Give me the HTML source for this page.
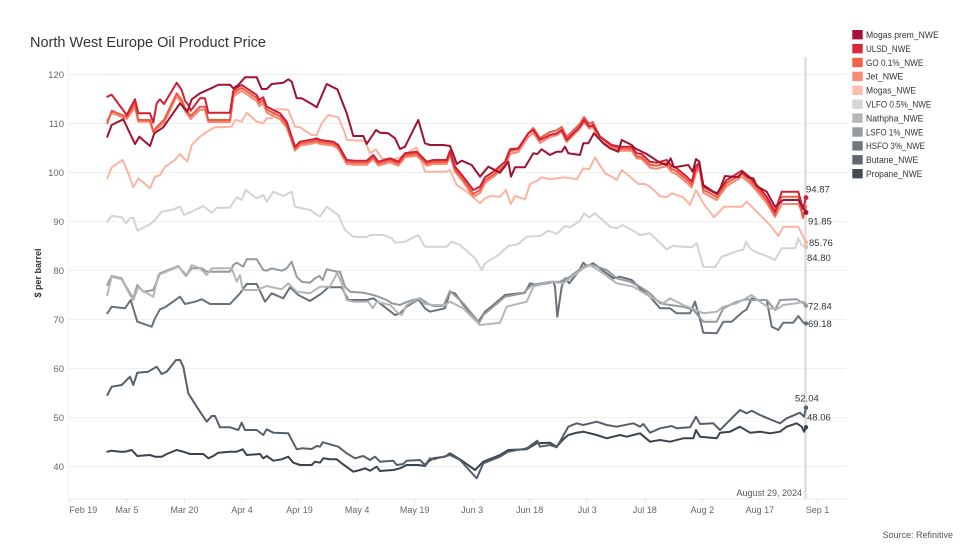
<!DOCTYPE html>
<html><head><meta charset="utf-8"><style>
html,body{margin:0;padding:0;background:#fff;}
svg{display:block;font-family:"Liberation Sans",Arial,sans-serif;}
</style></head><body>
<svg width="980" height="560" viewBox="0 0 980 560" xmlns="http://www.w3.org/2000/svg">
<rect width="980" height="560" fill="#fff"/>
<text x="30" y="47" font-size="15" fill="#333" textLength="236" lengthAdjust="spacingAndGlyphs">North West Europe Oil Product Price</text>

<!-- grid -->
<g stroke="#efefef" stroke-width="1">
<line x1="68" y1="74.5" x2="846" y2="74.5"/>
<line x1="68" y1="123.5" x2="846" y2="123.5"/>
<line x1="68" y1="172.5" x2="846" y2="172.5"/>
<line x1="68" y1="221.5" x2="846" y2="221.5"/>
<line x1="68" y1="270.5" x2="846" y2="270.5"/>
<line x1="68" y1="319.5" x2="846" y2="319.5"/>
<line x1="68" y1="368.5" x2="846" y2="368.5"/>
<line x1="68" y1="417.5" x2="846" y2="417.5"/>
<line x1="68" y1="466.5" x2="846" y2="466.5"/>
</g>
<line x1="68" y1="57" x2="68" y2="499" stroke="#f2f2f2"/>
<line x1="68" y1="499" x2="848" y2="499" stroke="#e8e8e8"/>
<g stroke="#e4e4e4">
<line x1="69.3" y1="499" x2="69.3" y2="503"/><line x1="126.9" y1="499" x2="126.9" y2="503"/><line x1="184.4" y1="499" x2="184.4" y2="503"/><line x1="242" y1="499" x2="242" y2="503"/><line x1="299.5" y1="499" x2="299.5" y2="503"/><line x1="357.1" y1="499" x2="357.1" y2="503"/><line x1="414.6" y1="499" x2="414.6" y2="503"/><line x1="472.2" y1="499" x2="472.2" y2="503"/><line x1="529.7" y1="499" x2="529.7" y2="503"/><line x1="587.3" y1="499" x2="587.3" y2="503"/><line x1="644.8" y1="499" x2="644.8" y2="503"/><line x1="702.4" y1="499" x2="702.4" y2="503"/><line x1="759.9" y1="499" x2="759.9" y2="503"/><line x1="817.5" y1="499" x2="817.5" y2="503"/>
</g>

<!-- y labels -->
<g font-size="9.5" fill="#666" text-anchor="end">
<text x="64" y="78">120</text><text x="64" y="127">110</text><text x="64" y="176">100</text><text x="64" y="225">90</text><text x="64" y="274">80</text><text x="64" y="323">70</text><text x="64" y="372">60</text><text x="64" y="421">50</text><text x="64" y="470">40</text>
</g>
<text transform="translate(41,273) rotate(-90)" font-size="9" font-weight="bold" fill="#333" text-anchor="middle">$ per barrel</text>

<!-- x labels -->
<g font-size="9" fill="#666" text-anchor="middle">
<text x="69.3" y="513" text-anchor="start">Feb 19</text><text x="126.9" y="513">Mar 5</text><text x="184.4" y="513">Mar 20</text><text x="242" y="513">Apr 4</text><text x="299.5" y="513">Apr 19</text><text x="357.1" y="513">May 4</text><text x="414.6" y="513">May 19</text><text x="472.2" y="513">Jun 3</text><text x="529.7" y="513">Jun 18</text><text x="587.3" y="513">Jul 3</text><text x="644.8" y="513">Jul 18</text><text x="702.4" y="513">Aug 2</text><text x="759.9" y="513">Aug 17</text><text x="817.5" y="513">Sep 1</text>
</g>

<!-- reference line -->
<line x1="805.5" y1="57" x2="805.5" y2="499" stroke="#dedede" stroke-width="2.5"/>
<text x="802" y="496" font-size="9" fill="#555" text-anchor="end">August 29, 2024</text>

<g fill="none" stroke-width="2" stroke-linejoin="round" stroke-linecap="round">
<polyline stroke="#3a434d" points="107.3,451.7 111.7,450.7 120,451.7 125,451.7 131.7,450 137.3,456 150,455 155,456.7 161.7,456.7 166.7,454 176.7,450 183.3,451.7 190,454 203.3,454 208.3,458.3 213.3,456 218.3,452.7 230,451.7 236.7,451.7 242.7,449.3 246.7,455 260,454 263.3,458.3 266.7,456 273.3,460.7 281.7,459.3 288.3,456.7 293.3,462.7 300,465 311.7,465 315,461.7 320,462.7 323.3,458.3 330,459.3 336.7,459.3 341.7,463.3 353.3,471.7 360,470 365,468.3 370,470.7 376.7,466.7 380,471 393.3,470 400,468.3 406.7,465 418.3,465 425,466 428.3,461.7 433.3,458.3 445,456.7 450,453.3 460,459.3 475,470 483.3,461.7 500,455 508.3,450 526.7,449.3 536.7,443.3 550,442.7 556.7,446.7 563.3,439.3 568.3,435 576.7,432.7 583.3,431.7 596.7,435 606.7,438.3 620,435 626.7,436.7 640,433.3 650,441.7 660,440 670,441.7 683.3,438.3 693.3,438.3 696,430 700,436.7 716.7,438.3 720,432.7 730,431.7 740,426.7 750,432.7 760,431.7 770,433.3 780,431.7 786.7,426.7 796.7,423.3 801.7,426.7 804,431.7 806,427.3"/>
<polyline stroke="#56606a" points="107.3,395 111.7,386.7 121.7,385 130,376.7 133.3,385 137.3,372.7 148.3,371.7 156.7,366.7 161.7,374 166.7,371.7 176,360 180,360 183.3,366.7 188.3,393.3 196.7,406.7 206.7,421.7 211.7,416 215,416 220,427.3 230,427.3 238.3,430 241.7,422.7 245,430 256.7,430 263.3,435 266.7,429.3 273.3,432.7 288.3,433.3 296.7,449.3 301.7,448.3 311.7,449 316.7,446 320,446.7 322.7,442.3 330,444.3 338.3,446.7 346.7,453.3 355,458.3 363.3,456 370,460 375,456.7 380,461.7 393.3,460.7 396.7,465 403.3,464 406.7,460.7 420,460 425,465 430,458.3 433.3,459.3 450,455 460,460 476.7,478.3 483.3,463.3 500,456.7 508.3,451.7 526.7,448.3 537.3,440.7 540,446.7 550,445 556.7,447.3 568.3,426.7 576.7,423.3 583.3,425 596.7,421.7 606.7,425 616.7,426.7 633.3,423.3 640,426.7 643.3,424 650,432.7 660,428.3 671.7,426 676.7,428.3 690,427.3 696,416.7 700,424 713.3,423.3 720,430 726.7,423.3 740,410 746.7,413.3 751.7,410.7 760,415 770,419.3 780,423.3 786.7,418.3 800,412.7 804,416.7 806,407.7"/>
<polyline stroke="#67717a" points="107.3,313.3 111.7,306.7 125,308.3 130.7,300 137.3,321.7 151.7,326.7 155,318.3 160,309.3 165,307.3 180,296.7 185,304 195,301.7 201.7,299.3 210,304 230,304 240,293.3 246.7,284 256.7,284 265,301.7 271.7,293.3 283.3,298.3 290,287.3 298.3,295 310,301 321.7,293.3 328.3,287.3 341.7,287.3 348.3,300 366.7,300 373.3,298.3 380,303.3 395,315 400,313.3 406.7,306.7 418.3,299.3 425,308.3 430,311.7 445,308.3 450,292 455,293.3 463.3,305 478.3,321.7 485,311.7 493.3,305 505,295 525,292.7 530,283.3 538.3,285 550,282.7 553.3,281.7 555,286.7 557.3,316.7 561.7,286.7 565,278.3 569.3,283.3 578.3,271.7 583.3,262.7 586.7,266 593.3,263.3 606.7,273.3 613.3,278.3 620,276.7 631.7,280 636.7,285 641.7,290 650,296.7 660,308.3 670,308.3 676.7,313.3 690,313.3 695,301.7 699.3,316.7 703.3,332.7 716.7,333.3 723.3,321.7 731.7,321.7 741.7,312.7 746.7,309.3 751.7,298.3 758.3,300 766.7,300 771.7,326.7 778.3,330 783.3,322.7 793.3,322.7 798.3,316 803.3,322.7 806,323.5"/>
<polyline stroke="#949a9f" points="107.3,285 111.7,276 121.7,278.3 125,285 133.3,298.3 137.3,285 143.3,291.7 153.3,290 160,273.3 178.3,266 186,276 191.7,268.3 201.7,268.3 206.7,271.7 213.3,271.7 230,271.7 233.3,265 236.7,262.7 243.3,266.7 246.7,259.3 256.7,259.3 263.3,270 266.7,270.7 271.7,268.3 281.7,270.7 286.7,268.3 291.7,261.7 296.7,276.7 301.7,281.7 310,282.7 315,278.3 319.3,276 322.7,280 326.7,269.3 336.7,271.7 340,271.7 345,286.7 350,291.7 363.3,292.7 373.3,295 378.3,296.7 386.7,300 391.7,303.3 400,305 405,302.7 410,300.7 420,298.3 428.3,304 433.3,306 443.3,306 450,291 463.3,303.3 479.3,322.7 483.3,315 493.3,306.7 505,296.7 523.3,293.3 531.7,285 550,281.7 560,281.7 570,276.7 583.3,266.7 593.3,265 606.7,270 616.7,278.3 630,281.7 640,286.7 650,293.3 660,303.3 670,305 683.3,306.7 693.3,310 703.3,321.7 716.7,321.7 723.3,308.3 736.7,301.7 746.7,299.3 751.7,300 766.7,300 775,310 780,300 796.7,299.3 803.3,303.3 806,305.7"/>
<polyline stroke="#b3b5b7" points="107.3,295 111.7,276.7 121.7,279.3 130,295 133.3,300 138.3,286.7 141.7,290 150,295 153.3,296.7 158.3,275 178.3,266.7 186.7,275 191.7,265 200,268.3 206.7,275 211.7,268.3 231.7,268.3 236.7,281.7 240,275 242.7,290 256.7,290 266.7,286 281.7,289.3 288.3,283.3 296.7,291.7 310,293.3 320,286.7 330,286.7 337.3,272.7 341.7,283.3 346.7,300 353.3,301.7 368.3,301.7 372.7,308.3 376.7,301.7 390,305 396.7,311.7 401.7,315 406.7,305 418.3,298.3 425,304 433.3,305 445,305 450,301.7 463.3,308.3 480,325 500,322.7 506.7,306.7 526.7,301.7 533.3,286.7 550,281.7 563.3,283.3 570,278.3 583.3,268.3 590,265 603.3,273.3 616.7,283.3 633.3,286.7 650,296.7 663.3,303.3 670,298.3 683.3,305 691.7,308.3 703.3,313.3 716.7,311.7 723.3,306.7 736.7,303.3 751.7,295 760,301.7 770,308.3 776.7,309.3 783.3,305 796.7,303.3 803.3,301.7 806,303.5"/>
<polyline stroke="#d3d3d3" points="107.3,221.7 111.7,216 121.7,217.3 126,223.3 130,218.3 133.3,217.7 137.3,230.7 150,224.3 155,220 161.7,211.7 171.7,210 180,206.7 184,215 191.7,211.7 203.3,206 211.7,212.7 216.7,207.7 230,207.7 236.7,197.3 241.7,200 245.7,190 256.7,198.3 263.3,195 266.7,201.7 273.3,191.7 283.3,196 291.7,191.7 295,206.7 310,210 320,216.7 326.7,206.7 338.3,215 345,230 353.3,236.7 366.7,237.3 370,235 383.3,235 391.7,238.3 395,242.7 405,241.7 418.3,235 425,246.7 446.7,246.7 451.7,241.7 460,245 475,258.3 481.7,270 485,263.3 498.3,255 508.3,246 518.3,244 526.7,236.7 540,236 548.3,230.7 556.7,234 565,226 570,227.3 580,220.7 584,213.3 589.3,217.3 595,213.3 610,226.7 616.7,228.3 622.7,225 635,231.7 640,235 650,233.3 666.7,249.3 672.7,246 691.7,247.3 696.7,243.3 703.3,266.7 715,267.3 721.7,256.7 726.7,255 738.3,250.7 743.3,250 746,241.7 750,248.3 755,251.7 768.3,256.7 775,260 781.7,248.3 795,248.3 798.3,238.3 801.7,245 806,247.1"/>
<polyline stroke="#fbb4a2" points="107.3,178.3 111.7,167.3 122.7,160 128.3,173.3 133.3,187.3 138.3,178.3 150,188.3 155,176.7 160,175 165,166.7 175,160 180,154 187.3,161.7 191.7,145 200,136.7 206.7,131.7 215,127.3 231.7,126.7 235,120 241.7,121.7 246.7,112.7 256.7,121.7 263.3,123.3 266.7,118.3 271.7,118.3 276.7,109.3 283.3,109.3 288.3,110 295,126.7 300,127.3 311.7,135 316.7,135 321.7,123.3 328.3,115 338.3,117.3 345,133.3 346.7,140 365,140.7 370,153.3 376,149.3 381.7,158.3 390,160 400,157.3 416.7,147.3 425,171.7 446.7,171.7 450,170 456.7,185 466.7,191.7 480,203.3 485,198.3 490,196 500,196.7 506,190 510.7,204 515,196 525,199.3 530,184 537.3,180.7 541.7,177.3 550,179.3 565,177.3 576.7,179.3 583.3,168.3 589.3,169.3 595,157.3 605,173.3 611.7,176.7 616.7,180 621.7,170 630,176.7 638.3,184 645,184 650,186.7 660,196 666.7,197.3 671.7,193.3 683.3,197.3 690,205 696,190 703.3,203.3 714,217.3 724,206.7 741.7,206.7 746.7,201.7 761.7,216.7 770,225 778.3,236 783.3,226.7 798.3,226.7 806,242.5"/>
<polyline stroke="#f7896f" points="107.3,120.5 111.7,113 126.7,119 135,107 138.3,121.7 150,121.7 153.3,132 156.7,129 164,123 176.7,96 181.7,103 185,111 190.7,119 200,109.7 205,109.7 208.3,122 230,122 233.3,96.7 238.3,92.7 241.7,91 246.7,94.3 256.7,101 259.3,106 263.3,103.3 266.7,112.7 270,114.3 280,119.3 286.7,127.7 295,150.7 300,145.7 313.3,143.3 316.7,142.3 320,144 333.3,145.7 338.3,149 346.7,164 355,164.7 366.7,164.7 373.3,159 378.3,165.7 390,162.3 398.3,165.7 405,157.3 416.7,155.7 426.7,165.7 433.3,164 446.7,164 450,155 455,171.7 463.3,182 473.3,197 480,193 485,183 493.3,177 505,167 510,154 518.3,152 528.3,137 533.3,133 540,143 550,137 556.7,135.3 561.7,132 566.7,142 575,133.7 580,128.7 584,122 589.3,128.7 592.7,127 600,139.7 611.7,148 620,150.7 631.7,150.7 636.7,158.3 641.7,159 650,167.7 656.7,168.7 666.7,166 671.7,172 676.7,174.3 686.7,182.7 691.7,187.7 696,173 699.3,168 703.3,192.7 716.7,200 720,195.3 726.7,186 733.3,182 741.7,176.7 750,183.3 756.7,191 766.7,203 775,217 781.7,204 798.3,204 803,214 806,210"/>
<polyline stroke="#ef5a45" points="107.3,123.3 111.7,110.7 126.7,117 135,103.3 138.3,120 150,120 153.3,131.7 156.7,127 164,120 176.7,93.3 181.7,100 185,108 190.7,116 200,106.7 205,106.7 208.3,120 230,120 233.3,93.7 238.3,89.7 241.7,88 246.7,91.3 256.7,98 259.3,103 263.3,100.3 266.7,109.7 270,111.3 280,116.3 286.7,124.7 295,148.7 300,143.7 313.3,141.3 316.7,140.3 320,142 333.3,143.7 338.3,147 346.7,162 355,162.7 366.7,162.7 373.3,157 378.3,163.7 390,160.3 398.3,163.7 405,155.3 416.7,153.7 426.7,163.7 433.3,162 446.7,162 450,153 455,169.7 463.3,179.7 473.3,194 480,190 485,180.3 493.3,174.7 505,164.7 510,151.3 518.3,149.3 528.3,133.3 533.3,128 540,138 550,132 556.7,130.3 561.7,127 566.7,137 575,128.7 580,123.7 584,117 589.3,123.7 592.7,122 600,136.7 611.7,146 620,148.7 631.7,148.7 636.7,156.3 641.7,157 650,164.7 656.7,165.7 666.7,163 671.7,169 676.7,171.3 686.7,179.7 691.7,184.7 696,170 699.3,165 703.3,189.7 716.7,197 720,192.3 726.7,183 733.3,179 741.7,173.7 750,180.3 756.7,188 766.7,200 775,215 781.7,196.7 798.3,196.7 803,218 806,206"/>
<polyline stroke="#d21f36" points="107.3,96.7 111.7,94.7 126.7,115 135,99.3 138.3,113.3 150,113.3 153.3,122.7 156.7,103.3 160,99.3 164,104 176.7,82.7 181.7,90 185,100.7 188.3,105 190.7,110.7 200,98.3 205,98.3 208.3,112.7 230,112.7 233.3,90.7 238.3,86.7 241.7,85 246.7,88.3 256.7,95 259.3,100 263.3,97.3 266.7,106.7 270,108.3 280,113.3 286.7,121.7 295,146.7 300,141.7 313.3,139.3 316.7,138.3 320,140 333.3,141.7 338.3,145 346.7,160 355,160.7 366.7,160.7 373.3,155 378.3,161.7 390,158.3 398.3,161.7 405,153.3 416.7,151.7 426.7,161.7 433.3,160 446.7,160 450,150.7 455,166.7 463.3,176.7 473.3,190 480,186.7 485,177.3 493.3,171.7 505,161.7 510,149.3 518.3,148.3 528.3,133.3 533.3,130 540,140 550,135 556.7,133.3 561.7,130 566.7,140 575,131.7 580,126.7 584,120 589.3,126.7 592.7,125 600,136.7 611.7,145 620,146.7 631.7,146.7 636.7,153.3 641.7,154 650,161.7 656.7,162.7 666.7,160 671.7,166 676.7,168.3 686.7,176.7 691.7,181.7 696,166 699.3,163 703.3,186.7 716.7,194 720,189.3 726.7,180 733.3,176 741.7,170.7 750,177.3 756.7,185 766.7,196.7 775,211.7 781.7,191.7 798.3,191.7 803,209 806,197.7"/>
<polyline stroke="#9e1330" points="107.3,136.7 111.7,125 123.3,119.3 135,144 139.3,136.7 150,146 154.3,133.3 163.3,127.3 180,103.3 187.3,111.7 191.7,99.3 200,93.3 213.3,87.3 218.3,84.7 230,84.7 233.3,88.3 238.3,85 245,77.3 256.7,77.3 261.7,89 266.7,89 271.7,84 283.3,82.7 288.3,79.3 291.7,81.7 296.7,98.3 301.7,98.3 313.3,105 316.7,107.3 326.7,84 337.3,89.3 346.7,113.3 353.3,136 363.3,136 366.7,144 376,130 380,132.7 388.3,133.3 395,138.3 400,149 405,146.7 418.3,120 425,143.3 430,145 443.3,145 450,146 454,156 456.7,164 461.7,160.7 471.7,165 480,176.7 488.3,166.7 500,172.7 508.3,161.7 511,176.7 515,167.3 525,167.3 533.3,153.3 537.3,154 541.7,149.3 550,155 556.7,151.7 561.7,151.7 565,146.7 568.3,153.3 580,155 583.3,143.3 588.3,143.3 594,133.3 603.3,143.3 610,148.3 618.3,151.7 621.7,140 631.7,145 635,148.3 646.7,154 660,162.7 666.7,165 670.7,158.3 674,167.3 688.3,165 692.7,171.7 696,159 699.3,161.7 703.3,185 713.3,191.7 717.3,193.3 720.7,187.3 725,176 738.3,177.3 742.7,171.7 748.3,177.3 753.3,178.3 756.7,186 766.7,191.7 775,206.7 783.3,200 798.3,200 806,212.5"/>
</g>

<!-- end dots -->
<g>
<circle cx="806" cy="197.7" r="2.4" fill="#d21f36"/>
<circle cx="806" cy="212.5" r="2.4" fill="#9e1330"/>
<circle cx="806" cy="242.5" r="2.2" fill="#fbb4a2"/>
<circle cx="806" cy="247.1" r="2.2" fill="#c8c8c8"/>
<circle cx="806" cy="305.7" r="2.2" fill="#949a9f"/>
<circle cx="806" cy="323.5" r="2.2" fill="#67717a"/>
<circle cx="806" cy="407.7" r="2.2" fill="#56606a"/>
<circle cx="806" cy="427.3" r="2.2" fill="#3a434d"/>
</g>
<g font-size="9.5" fill="#333">
<text x="806" y="192.5">94.87</text>
<text x="808" y="224.5">91.85</text>
<text x="809" y="246">85.76</text>
<text x="807" y="261">84.80</text>
<text x="808" y="309.5">72.84</text>
<text x="808" y="327">69.18</text>
<text x="795" y="401.7">52.04</text>
<text x="807" y="420.5">48.06</text>
</g>

<!-- legend -->
<g>
<rect x="852.3" y="30" width="10.4" height="9.4" fill="#a3123a"/>
<rect x="852.3" y="43.9" width="10.4" height="9.4" fill="#d62839"/>
<rect x="852.3" y="57.8" width="10.4" height="9.4" fill="#f0624a"/>
<rect x="852.3" y="71.7" width="10.4" height="9.4" fill="#f88d76"/>
<rect x="852.3" y="85.6" width="10.4" height="9.4" fill="#fcbcaa"/>
<rect x="852.3" y="99.5" width="10.4" height="9.4" fill="#d6d6d6"/>
<rect x="852.3" y="113.4" width="10.4" height="9.4" fill="#b5b7b8"/>
<rect x="852.3" y="127.3" width="10.4" height="9.4" fill="#959b9f"/>
<rect x="852.3" y="141.2" width="10.4" height="9.4" fill="#6e777e"/>
<rect x="852.3" y="155.1" width="10.4" height="9.4" fill="#5d6770"/>
<rect x="852.3" y="169" width="10.4" height="9.4" fill="#444c56"/>
</g>
<g font-size="9" fill="#333" lengthAdjust="spacingAndGlyphs">
<text x="866" y="38" textLength="72.7" lengthAdjust="spacingAndGlyphs">Mogas prem_NWE</text>
<text x="866" y="51.9" textLength="44.7" lengthAdjust="spacingAndGlyphs">ULSD_NWE</text>
<text x="866" y="65.8" textLength="57.3" lengthAdjust="spacingAndGlyphs">GO 0.1%_NWE</text>
<text x="866" y="79.7" textLength="37.3" lengthAdjust="spacingAndGlyphs">Jet_NWE</text>
<text x="866" y="93.6" textLength="50" lengthAdjust="spacingAndGlyphs">Mogas_NWE</text>
<text x="866" y="107.5" textLength="65.3" lengthAdjust="spacingAndGlyphs">VLFO 0.5%_NWE</text>
<text x="866" y="121.4" textLength="57.3" lengthAdjust="spacingAndGlyphs">Nathpha_NWE</text>
<text x="866" y="135.3" textLength="57.3" lengthAdjust="spacingAndGlyphs">LSFO 1%_NWE</text>
<text x="866" y="149.2" textLength="59" lengthAdjust="spacingAndGlyphs">HSFO 3%_NWE</text>
<text x="866" y="163.1" textLength="52.3" lengthAdjust="spacingAndGlyphs">Butane_NWE</text>
<text x="866" y="177" textLength="56.3" lengthAdjust="spacingAndGlyphs">Propane_NWE</text>
</g>

<text x="953" y="538" font-size="9" fill="#555" text-anchor="end">Source: Refinitive</text>
</svg>
</body></html>
